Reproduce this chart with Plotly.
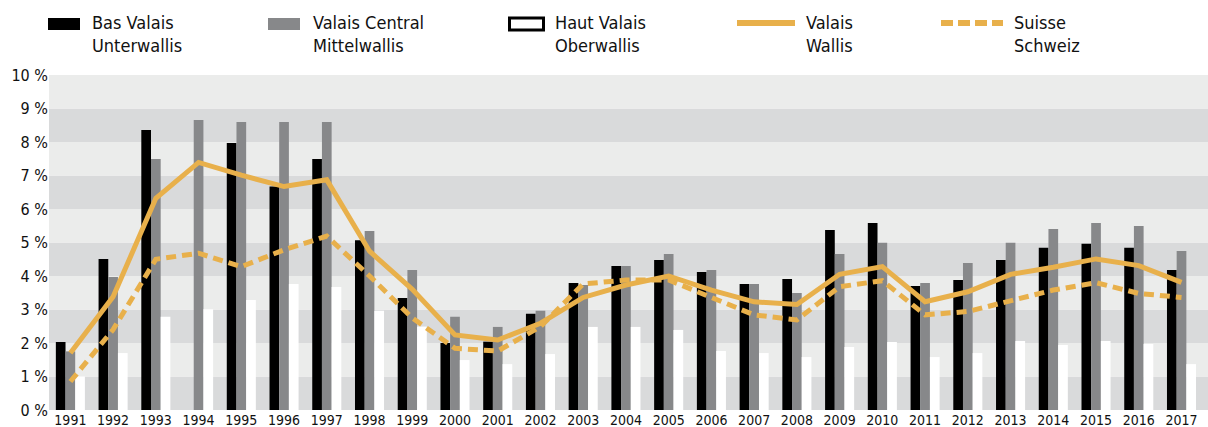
import plotly.graph_objects as go

years = [str(y) for y in range(1991, 2018)]

bas_valais = [2.03, 4.51, 8.36, 0.0, 7.97, 6.67, 7.49, 5.07, 3.34, 2.00, 2.04, 2.87, 3.79, 4.30,
              4.48, 4.12, 3.76, 3.91, 5.37, 5.58, 3.70, 3.88, 4.48, 4.84, 4.96, 4.84, 4.18]
valais_central = [1.75, 3.97, 7.49, 8.66, 8.60, 8.60, 8.60, 5.34, 4.18, 2.78, 2.48, 2.96, 3.73, 4.30,
                  4.66, 4.18, 3.76, 3.49, 4.66, 4.99, 3.79, 4.39, 4.99, 5.40, 5.58, 5.49, 4.75]
haut_valais = [1.00, 1.70, 2.78, 3.01, 3.28, 3.76, 3.67, 2.96, 2.49, 1.49, 1.37, 1.67, 2.48, 2.48,
               2.39, 1.76, 1.70, 1.58, 1.88, 2.03, 1.58, 1.70, 2.06, 1.94, 2.06, 1.97, 1.37]
valais = [1.70, 3.38, 6.32, 7.39, 7.01, 6.67, 6.87, 4.74, 3.60, 2.24, 2.09, 2.59, 3.36, 3.73,
          4.00, 3.58, 3.23, 3.15, 4.05, 4.28, 3.23, 3.53, 4.05, 4.26, 4.51, 4.31, 3.81]
suisse = [0.85, 2.40, 4.50, 4.68, 4.28, 4.78, 5.19, 4.00, 2.75, 1.84, 1.76, 2.49, 3.76, 3.88,
          3.88, 3.35, 2.84, 2.69, 3.68, 3.86, 2.84, 2.94, 3.26, 3.58, 3.80, 3.48, 3.36]

legend_names = ["Bas Valais<br>Unterwallis", "Valais Central<br>Mittelwallis",
                "Haut Valais<br>Oberwallis", "Valais<br>Wallis", "Suisse<br>Schweiz"]

GOLD = "#E8B04B"
FONT = "DejaVu Sans Condensed, sans-serif"

W, H = 1208, 427
L, R, T, B = 49, 0, 75, 17


def px(x):
    # window pixel -> paper x
    return (x - L) / (W - L - R)


def py(y):
    # window pixel -> paper y
    return (H - B - y) / (H - T - B)


fig = go.Figure()
fig.add_trace(go.Bar(x=years, y=bas_valais, marker_color="#000000", marker_line_width=0))
fig.add_trace(go.Bar(x=years, y=valais_central, marker_color="#87888a", marker_line_width=0))
fig.add_trace(go.Bar(x=years, y=haut_valais, marker_color="#ffffff", marker_line_width=0))
fig.add_trace(go.Scatter(x=years, y=valais, mode="lines", line=dict(color=GOLD, width=5)))
fig.add_trace(go.Scatter(x=years, y=suisse, mode="lines",
                         line=dict(color=GOLD, width=5, dash="10px,6px")))

# alternating background bands
shapes = []
for i in range(10):
    shapes.append(dict(type="rect", xref="paper", yref="y", x0=0, x1=1, y0=i, y1=i + 1,
                       fillcolor="#d9dadb" if i % 2 == 0 else "#ebeceb",
                       line_width=0, layer="below"))

# hand-drawn legend
shapes.append(dict(type="rect", xref="paper", yref="paper", x0=px(48), x1=px(80),
                   y0=py(30), y1=py(18), fillcolor="#000000", line_width=0))
shapes.append(dict(type="rect", xref="paper", yref="paper", x0=px(268), x1=px(300),
                   y0=py(30), y1=py(18), fillcolor="#87888a", line_width=0))
shapes.append(dict(type="rect", xref="paper", yref="paper", x0=px(509.5), x1=px(543.5),
                   y0=py(30), y1=py(18), fillcolor="#ffffff",
                   line=dict(color="#000000", width=3)))
shapes.append(dict(type="line", xref="paper", yref="paper", x0=px(737), x1=px(795),
                   y0=py(23), y1=py(23), line=dict(color=GOLD, width=6)))
shapes.append(dict(type="line", xref="paper", yref="paper", x0=px(941), x1=px(1003),
                   y0=py(23), y1=py(23), line=dict(color=GOLD, width=6, dash="12px,5px")))

annotations = []
for name, x in zip(legend_names, [90, 311, 553, 804, 1012]):
    annotations.append(dict(text=name, xref="paper", yref="paper", x=px(x), y=py(10),
                            xanchor="left", yanchor="top", align="left", showarrow=False,
                            font=dict(family=FONT, size=18, color="#111")))

fig.update_layout(
    width=W, height=H,
    margin=dict(l=L, r=R, t=T, b=B),
    paper_bgcolor="white", plot_bgcolor="white",
    barmode="group", bargap=0.32, bargroupgap=0,
    showlegend=False,
    font=dict(family=FONT, size=16, color="#111"),
    shapes=shapes, annotations=annotations,
    xaxis=dict(range=[-0.5, 26.62], showgrid=False, zeroline=False, showline=False,
               ticks="", tickfont=dict(size=14), automargin=False),
    yaxis=dict(range=[0, 10], dtick=1, ticksuffix=" %", showgrid=False, zeroline=False,
               showline=False, ticks="", tickfont=dict(size=16), automargin=False),
)

# drop the page's default 8px body margin so the figure fills the window exactly
fig.write_html("out.html", config={"displayModeBar": False},
               post_script="document.body.style.margin='0';document.body.style.overflow='hidden';")
